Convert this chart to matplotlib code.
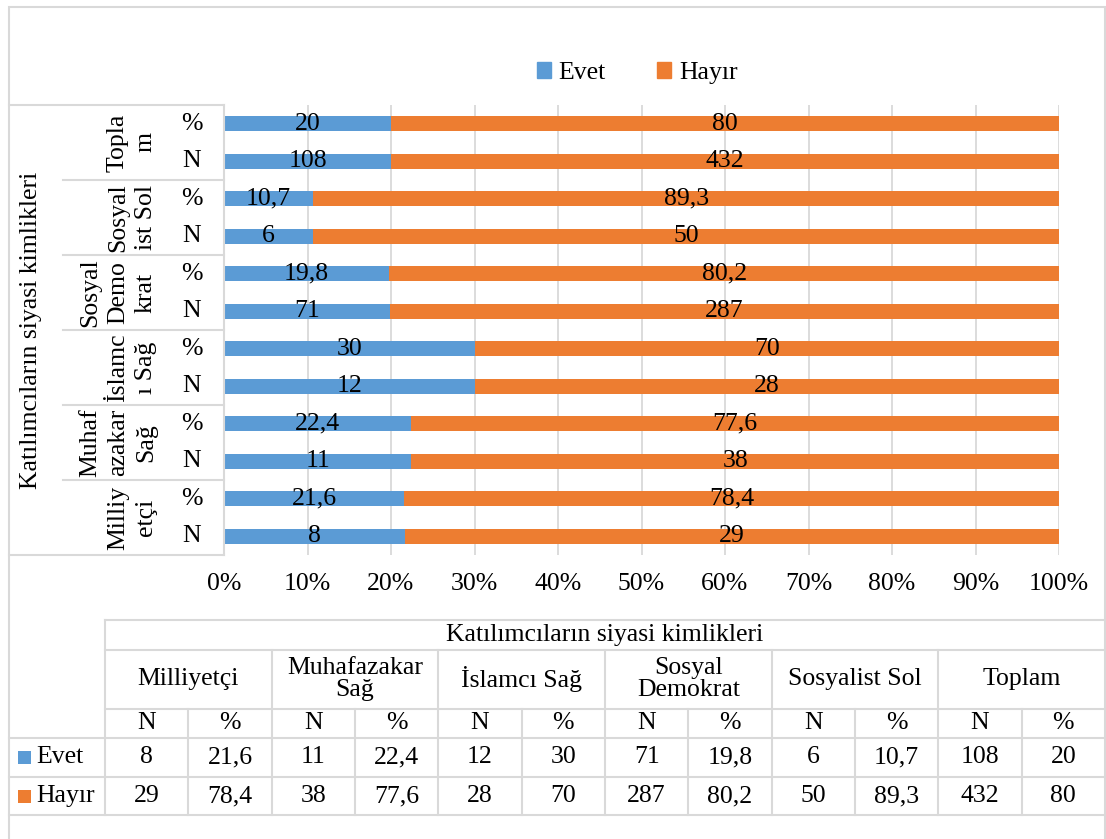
import matplotlib.pyplot as plt
from matplotlib.lines import Line2D
from matplotlib.patches import Patch, Rectangle
from matplotlib.transforms import blended_transform_factory

plt.rcParams['font.family'] = ['Liberation Serif', 'DejaVu Serif']
FS = 18.5

groups = ["Milliyetçi", "Muhafazakar Sağ", "İslamcı Sağ", "Sosyal Demokrat", "Sosyalist Sol", "Toplam"]
# wrapped the way the category axis shows them
axis_labels = ["Milliy\netçi", "Muhaf\nazakar\nSağ", "İslamc\nı Sağ", "Sosyal\nDemo\nkrat", "Sosyal\nist Sol", "Topla\nm"]
table_labels = ["Milliyetçi", "Muhafazakar\nSağ", "İslamcı Sağ", "Sosyal\nDemokrat", "Sosyalist Sol", "Toplam"]
evet_n = [8, 11, 12, 71, 6, 108]
hayir_n = [29, 38, 28, 287, 50, 432]
evet_pct = [21.6, 22.4, 30, 19.8, 10.7, 20]
hayir_pct = [78.4, 77.6, 70, 80.2, 89.3, 80]
series = ["Evet", "Hayır"]
colors = ["#5B9BD5", "#ED7D31"]
xticks = [0, 10, 20, 30, 40, 50, 60, 70, 80, 90, 100]

GRID = "#D9D9D9"
W, H = 1106, 839


def fx(x):
    return x / W


def fy(y):
    return 1 - y / H


def fmt(v):
    return f"{v:g}".replace(".", ",")


fig = plt.figure(figsize=(W / 100, H / 100), dpi=100)

# outer chart border
fig.add_artist(Rectangle((fx(9), fy(845)), fx(1105) - fx(9), fy(7) - fy(845),
                         transform=fig.transFigure, fill=False, ec=GRID, lw=1.5))

ax = fig.add_axes([fx(224), fy(555), fx(1059) - fx(224), fy(105) - fy(555)])

# rows from bottom: for each group N then %
ypos, left_vals, right_vals, left_txt, right_txt, row_txt = [], [], [], [], [], []
for i in range(len(groups)):
    tot = evet_n[i] + hayir_n[i]
    ypos += [2 * i, 2 * i + 1]
    left_vals += [evet_n[i] / tot * 100, evet_pct[i]]
    right_vals += [hayir_n[i] / tot * 100, hayir_pct[i]]
    left_txt += [fmt(evet_n[i]), fmt(evet_pct[i])]
    right_txt += [fmt(hayir_n[i]), fmt(hayir_pct[i])]
    row_txt += ["N", "%"]

b1 = ax.barh(ypos, left_vals, height=0.4, color=colors[0], zorder=3)
b2 = ax.barh(ypos, right_vals, left=left_vals, height=0.4, color=colors[1], zorder=3)
ax.bar_label(b1, labels=left_txt, label_type="center", fontsize=FS, color="black")
ax.bar_label(b2, labels=right_txt, label_type="center", fontsize=FS, color="black")

ax.set_xlim(0, 100)
ax.set_ylim(-0.5, 11.5)
ax.set_xticks(xticks)
ax.set_xticklabels([f"{t}%" for t in xticks], fontsize=FS)
ax.set_yticks([])
ax.tick_params(axis="x", length=0, pad=13)
ax.grid(axis="x", color=GRID, lw=1.3, zorder=0)
for s in ax.spines.values():
    s.set_visible(False)

# multi-level category axis
bt = blended_transform_factory(fig.transFigure, ax.transData)
for y, t in zip(ypos, row_txt):
    fig.text(fx(192), y, t, transform=bt, ha="center", va="center", fontsize=FS)
for i, lab in enumerate(axis_labels):
    fig.text(fx(157), 2 * i + 0.5, lab, transform=bt, rotation=90, ha="right", va="center",
             fontsize=FS, multialignment="center", linespacing=1.35)
for k in range(1, len(groups)):
    fig.add_artist(Line2D([fx(63), fx(224)], [2 * k - 0.5] * 2, transform=bt, color=GRID, lw=1.5))
fig.add_artist(Line2D([fx(9), fx(224)], [11.5] * 2, transform=bt, color=GRID, lw=1.5))
fig.add_artist(Line2D([fx(9), fx(224)], [-0.5] * 2, transform=bt, color=GRID, lw=1.5))
fig.add_artist(Line2D([fx(224)] * 2, [-0.5, 11.5], transform=bt, color=GRID, lw=1.5))
fig.text(fx(31), fy(330), "Katılımcıların siyasi kimlikleri", rotation=90,
         ha="center", va="center", fontsize=FS)

# legend
handles = [Patch(color=c, label=s) for c, s in zip(colors, series)]
fig.legend(handles=handles, loc="center", bbox_to_anchor=(fx(637), fy(73)), ncol=2,
           frameon=False, fontsize=FS, handlelength=0.55, handleheight=0.55,
           handletextpad=0.3, columnspacing=2.0)

# data table
tx0, tx1 = 105, 1105
cw = (tx1 - tx0) / 12
rows_y = [620, 650, 709, 738, 777, 815]


def hline(y, x0, x1):
    fig.add_artist(Line2D([fx(x0), fx(x1)], [fy(y)] * 2, transform=fig.transFigure, color=GRID, lw=1.5))


def vline(x, y0, y1):
    fig.add_artist(Line2D([fx(x)] * 2, [fy(y0), fy(y1)], transform=fig.transFigure, color=GRID, lw=1.5))


for y in rows_y[:3]:
    hline(y, tx0, tx1)
for y in rows_y[3:]:
    hline(y, 9, tx1)
vline(tx0, 620, 815)
for g in range(1, 6):
    vline(tx0 + 2 * g * cw, 650, 815)
for c in range(6):
    vline(tx0 + (2 * c + 1) * cw, 709, 815)

fig.text(fx((tx0 + tx1) / 2), fy(635), "Katılımcıların siyasi kimlikleri", ha="center", va="center", fontsize=FS)
for g, lab in enumerate(table_labels):
    xc = tx0 + (2 * g + 1) * cw
    fig.text(fx(xc), fy(679), lab, ha="center", va="center", fontsize=FS, linespacing=1.05)
    cells = [("N", "%"), (fmt(evet_n[g]), fmt(evet_pct[g])), (fmt(hayir_n[g]), fmt(hayir_pct[g]))]
    for (a, b), yc in zip(cells, [723, 757, 796]):
        fig.text(fx(xc - cw / 2), fy(yc), a, ha="center", va="center", fontsize=FS)
        fig.text(fx(xc + cw / 2), fy(yc), b, ha="center", va="center", fontsize=FS)

for s, c, yc in zip(series, colors, [757, 796]):
    fig.add_artist(Rectangle((fx(18), fy(yc + 6.5)), fx(13), 13 / H, transform=fig.transFigure,
                             color=c, lw=0))
    fig.text(fx(36), fy(yc), s, ha="left", va="center", fontsize=FS)

fig.savefig("out.png", dpi=100)
